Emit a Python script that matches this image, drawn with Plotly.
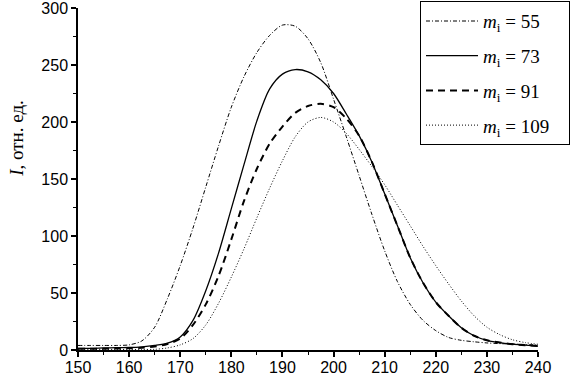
import plotly.graph_objects as go

# x axis (wavelength-like coordinate)
x_vals = [150, 152.5, 155, 157.5, 160, 162.5, 165, 167.5, 170, 172.5, 175, 177.5,
          180, 182.5, 185, 187.5, 190, 192.5, 195, 197.5, 200, 202.5, 205, 207.5,
          210, 212.5, 215, 217.5, 220, 222.5, 225, 227.5, 230, 232.5, 235, 237.5, 240]

I_m55 = [4, 4, 4, 4, 4.5, 8, 20, 45, 74, 107, 143, 179,
         213, 240, 261, 276, 285, 284, 273, 252, 220, 187, 153, 119,
         87, 60, 40, 26, 17, 11, 8.5, 7.2, 6.2, 5.6, 5.3, 4.8, 4.4]

I_m73 = [1.5, 1.5, 1.8, 2, 2.2, 2.8, 4, 6, 11.5, 26, 52, 85,
         124, 163, 201, 229, 242, 246, 244, 237, 225, 207, 188, 165,
         137, 109, 81, 59, 42, 30, 19.5, 12.5, 8.5, 6.5, 5.1, 4.2, 3.4]

I_m91 = [1, 1, 1.2, 1.3, 1.5, 2, 3, 5.3, 10, 22, 40, 65,
         97, 131, 159, 181, 196, 208, 214, 216, 213, 203, 188, 165,
         137, 109, 81, 59, 42, 30, 19.5, 12.5, 8.5, 6.5, 5.1, 4.2, 3.4]

I_m109 = [0.5, 0.5, 0.5, 0.5, 0.5, 0.5, 0.6, 1.8, 4.5, 10, 22, 41,
          64, 89, 116, 142, 166, 187, 200, 204, 200, 190, 176, 161,
          145, 127, 109, 91, 74, 58, 43, 30, 20, 13.5, 9, 6.5, 5]

labels = ["<i>m</i><sub>i</sub> = 55", "<i>m</i><sub>i</sub> = 73",
          "<i>m</i><sub>i</sub> = 91", "<i>m</i><sub>i</sub> = 109&nbsp;&nbsp;&nbsp;"]

series = [I_m55, I_m73, I_m91, I_m109]
styles = [dict(width=1, dash="4px,2px,1px,2px"),
          dict(width=1.3, dash="solid"),
          dict(width=2, dash="7px,5px"),
          dict(width=1, dash="1px,2px")]

fig = go.Figure()
for i, (ys, lab, st) in enumerate(zip(series, labels, styles)):
    fig.add_trace(go.Scatter(
        x=x_vals, y=ys, mode="lines", name=lab, legendgroup=f"g{i}",
        line=dict(color="black", shape="spline", smoothing=0.8, **st)))

axis_common = dict(
    showline=True, linecolor="black", linewidth=1.5, showgrid=False, zeroline=False,
    ticks="outside", ticklen=5, tickwidth=1.5, tickcolor="black",
    tickfont=dict(family="Liberation Sans, Arial", size=16, color="black"),
    mirror=False, ticklabeloverflow="allow",
)

fig.update_xaxes(range=[150, 240], tickmode="array",
                 tickvals=[150, 160, 170, 180, 190, 200, 210, 220, 230, 240],
                 ticklabelstandoff=-3,
                 minor=dict(ticks="outside", ticklen=3, tickcolor="black", tickwidth=1.2, dtick=5, tick0=150),
                 **axis_common)
fig.update_yaxes(range=[0, 300], tickmode="array",
                 tickvals=[0, 50, 100, 150, 200, 250, 300],
                 minor=dict(ticks="outside", ticklen=3, tickcolor="black", tickwidth=1.2, dtick=25, tick0=0),
                 **axis_common)

fig.add_annotation(text="<i>I</i>, отн. ед.", xref="paper", yref="paper",
                   x=-0.133, y=0.62, xanchor="center", yanchor="middle",
                   textangle=-90, showarrow=False,
                   font=dict(family="Liberation Serif, Times New Roman", size=19, color="black"))

fig.update_layout(
    width=585, height=377,
    margin=dict(l=78, r=47, t=8, b=27, autoexpand=False),
    plot_bgcolor="white", paper_bgcolor="white",
    showlegend=True,
    legend=dict(x=0.7435, y=1.02, xanchor="left", yanchor="top",
                bordercolor="black", borderwidth=1, bgcolor="white",
                itemwidth=52, tracegroupgap=7,
                font=dict(family="Liberation Serif, Times New Roman", size=19, color="black")),
)

fig.write_html("out.html", config={"displayModeBar": False},
               post_script="document.body.style.margin='0px';")
